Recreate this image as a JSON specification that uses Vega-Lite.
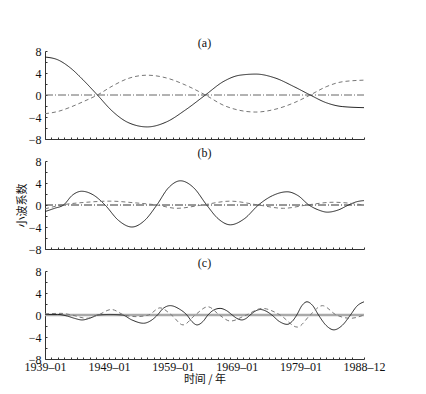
{
  "$schema": "https://vega.github.io/schema/vega-lite/v6.json",
  "background": "white",
  "padding": {"left": 16, "top": 37, "right": 5, "bottom": 5},
  "config": {
    "view": {"stroke": null},
    "font": "Liberation Serif",
    "axis": {"domainColor": "#333", "tickColor": "#333", "grid": false, "labelFont": "Liberation Serif", "labelFontSize": 12, "labelColor": "#111", "labelOverlap": false, "labelFlush": false, "titleFont": "Noto Sans CJK SC", "titleFontWeight": "normal", "titleFontSize": 11, "titleColor": "#111"},
    "title": {"font": "Liberation Serif", "fontSize": 12, "fontWeight": "normal", "color": "#111", "offset": -5, "baseline": "bottom"},
    "concat": {"spacing": 2}
  },
  "resolve": {"scale": {"color": "independent", "strokeWidth": "independent", "strokeDash": "independent"}},
  "data": {"values": [
      {"p":"a","s":"z","x":1939,"y":0},{"p":"a","s":"z","x":1988.92,"y":0},
      {"p":"b","s":"z","x":1939,"y":0},{"p":"b","s":"z","x":1988.92,"y":0},
      {"p":"c","s":"z","x":1939,"y":0},{"p":"c","s":"z","x":1988.92,"y":0},
      {"p":"a","s":"s","x":1939,"y":6.9},{"p":"a","s":"s","x":1941,"y":6.4},{"p":"a","s":"s","x":1943,"y":4.9},{"p":"a","s":"s","x":1945,"y":2.7},{"p":"a","s":"s","x":1947.2,"y":0},{"p":"a","s":"s","x":1949.5,"y":-2.9},{"p":"a","s":"s","x":1952,"y":-5.0},{"p":"a","s":"s","x":1955,"y":-5.8},{"p":"a","s":"s","x":1958,"y":-4.9},{"p":"a","s":"s","x":1961,"y":-2.7},{"p":"a","s":"s","x":1964.1,"y":0},{"p":"a","s":"s","x":1967,"y":2.5},{"p":"a","s":"s","x":1969.5,"y":3.6},{"p":"a","s":"s","x":1972,"y":3.8},{"p":"a","s":"s","x":1975,"y":3.1},{"p":"a","s":"s","x":1978,"y":1.5},{"p":"a","s":"s","x":1980.5,"y":0},{"p":"a","s":"s","x":1983,"y":-1.4},{"p":"a","s":"s","x":1985.5,"y":-2.1},{"p":"a","s":"s","x":1988.92,"y":-2.3},
      {"p":"a","s":"d","x":1939,"y":-3.4},{"p":"a","s":"d","x":1941,"y":-3.0},{"p":"a","s":"d","x":1943,"y":-2.2},{"p":"a","s":"d","x":1945,"y":-1.2},{"p":"a","s":"d","x":1947.2,"y":0},{"p":"a","s":"d","x":1949.5,"y":1.6},{"p":"a","s":"d","x":1952,"y":3.0},{"p":"a","s":"d","x":1955,"y":3.6},{"p":"a","s":"d","x":1958,"y":3.1},{"p":"a","s":"d","x":1961,"y":1.8},{"p":"a","s":"d","x":1964.1,"y":0},{"p":"a","s":"d","x":1967,"y":-1.9},{"p":"a","s":"d","x":1969.5,"y":-2.8},{"p":"a","s":"d","x":1972,"y":-3.1},{"p":"a","s":"d","x":1975,"y":-2.6},{"p":"a","s":"d","x":1978,"y":-1.4},{"p":"a","s":"d","x":1980.5,"y":0},{"p":"a","s":"d","x":1983,"y":1.5},{"p":"a","s":"d","x":1985.5,"y":2.4},{"p":"a","s":"d","x":1988.92,"y":2.7},
      {"p":"b","s":"s","x":1939,"y":-1.2},{"p":"b","s":"s","x":1940.5,"y":-0.6},{"p":"b","s":"s","x":1941.9,"y":0},{"p":"b","s":"s","x":1943.3,"y":1.8},{"p":"b","s":"s","x":1944.75,"y":2.5},{"p":"b","s":"s","x":1946.6,"y":1.8},{"p":"b","s":"s","x":1948.4,"y":0},{"p":"b","s":"s","x":1950.5,"y":-2.8},{"p":"b","s":"s","x":1952.6,"y":-4.0},{"p":"b","s":"s","x":1954.6,"y":-2.8},{"p":"b","s":"s","x":1956.5,"y":0},{"p":"b","s":"s","x":1958.3,"y":3.1},{"p":"b","s":"s","x":1960.2,"y":4.4},{"p":"b","s":"s","x":1962.3,"y":3.1},{"p":"b","s":"s","x":1964.3,"y":0},{"p":"b","s":"s","x":1966.1,"y":-2.5},{"p":"b","s":"s","x":1968,"y":-3.6},{"p":"b","s":"s","x":1970.2,"y":-2.5},{"p":"b","s":"s","x":1972.4,"y":0},{"p":"b","s":"s","x":1974.6,"y":1.7},{"p":"b","s":"s","x":1976.9,"y":2.4},{"p":"b","s":"s","x":1978.6,"y":1.7},{"p":"b","s":"s","x":1980.3,"y":0},{"p":"b","s":"s","x":1981.8,"y":-0.9},{"p":"b","s":"s","x":1983.2,"y":-1.3},{"p":"b","s":"s","x":1984.9,"y":-0.9},{"p":"b","s":"s","x":1986.5,"y":0},{"p":"b","s":"s","x":1987.8,"y":0.6},{"p":"b","s":"s","x":1988.92,"y":0.8},
      {"p":"b","s":"d","x":1939,"y":-0.7},{"p":"b","s":"d","x":1941.6,"y":0},{"p":"b","s":"d","x":1945.5,"y":0.5},{"p":"b","s":"d","x":1949.2,"y":0.7},{"p":"b","s":"d","x":1953,"y":0.4},{"p":"b","s":"d","x":1956.5,"y":0},{"p":"b","s":"d","x":1959.6,"y":-0.6},{"p":"b","s":"d","x":1963.6,"y":0},{"p":"b","s":"d","x":1968,"y":0.7},{"p":"b","s":"d","x":1972.4,"y":0},{"p":"b","s":"d","x":1976.3,"y":-0.6},{"p":"b","s":"d","x":1980,"y":0},{"p":"b","s":"d","x":1984.1,"y":0.5},{"p":"b","s":"d","x":1988.92,"y":0},
      {"p":"c","s":"s","x":1939,"y":0.1},{"p":"c","s":"s","x":1941,"y":0.1},{"p":"c","s":"s","x":1942.5,"y":-0.2},{"p":"c","s":"s","x":1943.6,"y":-0.6},{"p":"c","s":"s","x":1944.8,"y":-0.9},{"p":"c","s":"s","x":1946.2,"y":-0.5},{"p":"c","s":"s","x":1947.3,"y":0},{"p":"c","s":"s","x":1949.2,"y":0.1},{"p":"c","s":"s","x":1951.1,"y":0},{"p":"c","s":"s","x":1952.6,"y":-0.9},{"p":"c","s":"s","x":1954.4,"y":-1.5},{"p":"c","s":"s","x":1955.6,"y":-1.0},{"p":"c","s":"s","x":1956.6,"y":0},{"p":"c","s":"s","x":1957.5,"y":1.2},{"p":"c","s":"s","x":1958.6,"y":1.7},{"p":"c","s":"s","x":1960,"y":1.1},{"p":"c","s":"s","x":1961.2,"y":0},{"p":"c","s":"s","x":1962,"y":-1.2},{"p":"c","s":"s","x":1962.8,"y":-1.8},{"p":"c","s":"s","x":1963.7,"y":-1.2},{"p":"c","s":"s","x":1964.5,"y":0},{"p":"c","s":"s","x":1965.4,"y":0.9},{"p":"c","s":"s","x":1966.4,"y":1.2},{"p":"c","s":"s","x":1967.4,"y":0.8},{"p":"c","s":"s","x":1968.3,"y":0},{"p":"c","s":"s","x":1969,"y":-0.6},{"p":"c","s":"s","x":1969.8,"y":-0.9},{"p":"c","s":"s","x":1970.5,"y":-0.6},{"p":"c","s":"s","x":1971.1,"y":0},{"p":"c","s":"s","x":1971.9,"y":0.7},{"p":"c","s":"s","x":1972.7,"y":1.0},{"p":"c","s":"s","x":1973.6,"y":0.7},{"p":"c","s":"s","x":1974.5,"y":0},{"p":"c","s":"s","x":1975.7,"y":-1.2},{"p":"c","s":"s","x":1976.9,"y":-1.7},{"p":"c","s":"s","x":1977.65,"y":-1.2},{"p":"c","s":"s","x":1978.4,"y":0},{"p":"c","s":"s","x":1979.2,"y":1.7},{"p":"c","s":"s","x":1980,"y":2.4},{"p":"c","s":"s","x":1980.9,"y":1.7},{"p":"c","s":"s","x":1981.8,"y":0},{"p":"c","s":"s","x":1983,"y":-1.9},{"p":"c","s":"s","x":1984.2,"y":-2.7},{"p":"c","s":"s","x":1985.5,"y":-1.9},{"p":"c","s":"s","x":1986.8,"y":0},{"p":"c","s":"s","x":1987.8,"y":1.6},{"p":"c","s":"s","x":1988.92,"y":2.4},
      {"p":"c","s":"d","x":1939,"y":0.2},{"p":"c","s":"d","x":1941.5,"y":0.3},{"p":"c","s":"d","x":1943.2,"y":0},{"p":"c","s":"d","x":1945.5,"y":-0.6},{"p":"c","s":"d","x":1947.3,"y":0},{"p":"c","s":"d","x":1949.4,"y":1.0},{"p":"c","s":"d","x":1951.4,"y":0},{"p":"c","s":"d","x":1953.3,"y":-0.3},{"p":"c","s":"d","x":1955.2,"y":0},{"p":"c","s":"d","x":1957,"y":1.3},{"p":"c","s":"d","x":1958.8,"y":0},{"p":"c","s":"d","x":1960.6,"y":-1.8},{"p":"c","s":"d","x":1962.5,"y":0},{"p":"c","s":"d","x":1964.5,"y":1.5},{"p":"c","s":"d","x":1966.3,"y":0},{"p":"c","s":"d","x":1968,"y":-1.1},{"p":"c","s":"d","x":1970.5,"y":0},{"p":"c","s":"d","x":1973,"y":1.2},{"p":"c","s":"d","x":1975.8,"y":0},{"p":"c","s":"d","x":1978.5,"y":-2.2},{"p":"c","s":"d","x":1980.5,"y":0},{"p":"c","s":"d","x":1982.4,"y":1.7},{"p":"c","s":"d","x":1984.6,"y":0},{"p":"c","s":"d","x":1986.8,"y":-0.6},{"p":"c","s":"d","x":1988.92,"y":0}
  ]},
  "vconcat": [
    {
      "width": 319, "height": 88,
      "title": {"text": "(a)"},
      "transform": [{"filter": "datum.p == 'a'"}],
      "mark": {"type": "line", "interpolate": "monotone", "strokeWidth": 1},
      "encoding": {
        "x": {"field": "x", "type": "quantitative", "scale": {"domain": [1939, 1988.92], "nice": false, "zero": false},
              "axis": {"values": [1939,1940,1941,1942,1943,1944,1945,1946,1947,1948,1949,1950,1951,1952,1953,1954,1955,1956,1957,1958,1959,1960,1961,1962,1963,1964,1965,1966,1967,1968,1969,1970,1971,1972,1973,1974,1975,1976,1977,1978,1979,1980,1981,1982,1983,1984,1985,1986,1987,1988.92], "labels": false, "tickSize": -2, "title": null}},
        "y": {"field": "y", "type": "quantitative", "scale": {"domain": [-8, 8], "nice": false},
              "axis": {"values": [-8,-6,-4,-2,0,2,4,6,8], "labelExpr": "abs(datum.value) == 2 || abs(datum.value) == 6 ? '' : datum.label", "labelOverlap": false, "tickSize": -2, "labelPadding": 6, "title": null}},
        "color": {"field": "s", "type": "nominal", "scale": {"domain": ["z", "s", "d"], "range": ["#666", "#222", "#777"]}, "legend": null},
        "strokeDash": {"field": "s", "type": "nominal", "scale": {"domain": ["z", "s", "d"], "range": [[8, 2, 1, 2], [1, 0], [4, 3]]}, "legend": null}
      }
    },
    {
      "width": 319, "height": 88,
      "title": {"text": "(b)"},
      "transform": [{"filter": "datum.p == 'b'"}],
      "mark": {"type": "line", "interpolate": "monotone", "strokeWidth": 1},
      "encoding": {
        "x": {"field": "x", "type": "quantitative", "scale": {"domain": [1939, 1988.92], "nice": false, "zero": false},
              "axis": {"values": [1939,1940,1941,1942,1943,1944,1945,1946,1947,1948,1949,1950,1951,1952,1953,1954,1955,1956,1957,1958,1959,1960,1961,1962,1963,1964,1965,1966,1967,1968,1969,1970,1971,1972,1973,1974,1975,1976,1977,1978,1979,1980,1981,1982,1983,1984,1985,1986,1987,1988.92], "labels": false, "tickSize": -2, "title": null}},
        "y": {"field": "y", "type": "quantitative", "scale": {"domain": [-8, 8], "nice": false},
              "axis": {"values": [-8,-6,-4,-2,0,2,4,6,8], "labelExpr": "abs(datum.value) == 2 || abs(datum.value) == 6 ? '' : datum.label", "labelOverlap": false, "tickSize": -2, "labelPadding": 6, "title": "小波系数", "titlePadding": 1}},
        "color": {"field": "s", "type": "nominal", "scale": {"domain": ["z", "s", "d"], "range": ["#333", "#222", "#777"]}, "legend": null},
        "strokeDash": {"field": "s", "type": "nominal", "scale": {"domain": ["z", "s", "d"], "range": [[8, 2, 1, 2], [1, 0], [4, 3]]}, "legend": null}
      }
    },
    {
      "width": 319, "height": 88,
      "title": {"text": "(c)"},
      "transform": [{"filter": "datum.p == 'c'"}],
      "mark": {"type": "line", "interpolate": "monotone"},
      "encoding": {
        "x": {"field": "x", "type": "quantitative", "scale": {"domain": [1939, 1988.92], "nice": false, "zero": false},
              "axis": {"values": [1939,1940,1941,1942,1943,1944,1945,1946,1947,1948,1949,1950,1951,1952,1953,1954,1955,1956,1957,1958,1959,1960,1961,1962,1963,1964,1965,1966,1967,1968,1969,1970,1971,1972,1973,1974,1975,1976,1977,1978,1979,1980,1981,1982,1983,1984,1985,1986,1987,1988.92], "labelExpr": "datum.value > 1988 ? '1988–12' : (datum.value % 10 == 9 ? datum.value + '–01' : '')", "labelOverlap": false, "labelFlush": false, "labelPadding": 4, "tickSize": -2, "title": "时间 / 年", "titlePadding": 1}},
        "y": {"field": "y", "type": "quantitative", "scale": {"domain": [-8, 8], "nice": false},
              "axis": {"values": [-8,-6,-4,-2,0,2,4,6,8], "labelExpr": "abs(datum.value) == 2 || abs(datum.value) == 6 ? '' : datum.label", "labelOverlap": false, "tickSize": -2, "labelPadding": 6, "title": null}},
        "color": {"field": "s", "type": "nominal", "scale": {"domain": ["z", "s", "d"], "range": ["#aaa", "#222", "#777"]}, "legend": null},
        "strokeWidth": {"field": "s", "type": "nominal", "scale": {"type": "ordinal", "domain": ["z", "s", "d"], "range": [2.5, 1, 1]}, "legend": null},
        "strokeDash": {"field": "s", "type": "nominal", "scale": {"domain": ["z", "s", "d"], "range": [[1, 0], [1, 0], [4, 3]]}, "legend": null}
      }
    }
  ]
}
